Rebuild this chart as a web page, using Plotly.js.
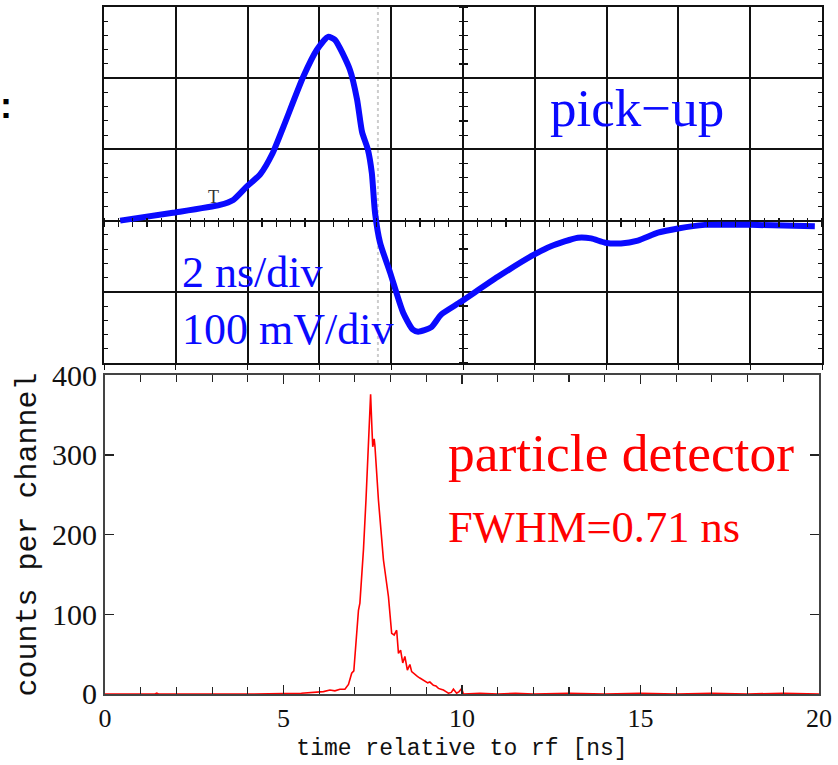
<!DOCTYPE html>
<html>
<head>
<meta charset="utf-8">
<script src="https://cdn.plot.ly/plotly-3.0.1.min.js"></script>
<style>html,body{margin:0;padding:0;background:#fff;}#chart{width:838px;height:765px;}</style>
</head>
<body>
<div id="chart"></div>
<script>
// ---- pick-up signal (oscilloscope trace): time [ns], voltage [mV] ----
const pickupTime = [0.45, 1.92, 3.23, 3.6, 3.98, 4.35, 4.7, 5.0, 5.55, 5.93, 6.24, 6.43, 6.85, 7.05, 7.19, 7.35, 7.46, 7.55, 7.69, 7.97, 8.33, 8.6, 8.75, 9.11, 9.39, 9.94, 10.97, 11.9, 12.45, 13.2, 13.57, 13.96, 14.4, 14.87, 15.43, 15.99, 16.74, 18.02, 19.8];
const pickupVolt = [0, 11, 22, 29, 48, 65, 95, 132, 202, 240, 258, 254, 212, 170, 124, 100, 67, 11, -31, -73, -129, -153, -156, -150, -132, -114, -79, -50, -36, -24, -25, -31, -32, -28, -17, -11, -6, -6, -8];

// ---- particle detector histogram: time relative to rf [ns], counts per channel ----
const detTime = [0, 1.40, 1.45, 1.50, 4.06, 4.5, 5.0, 5.5, 5.74, 6.02, 6.12, 6.30, 6.44, 6.58, 6.72, 6.82, 6.91, 6.97, 7.03, 7.10, 7.14, 7.24, 7.31, 7.37, 7.44, 7.48, 7.50, 7.54, 7.56, 7.66, 7.80, 7.94, 8.03, 8.10, 8.17, 8.22, 8.28, 8.34, 8.40, 8.47, 8.54, 8.59, 8.68, 8.75, 8.82, 8.90, 8.96, 9.04, 9.10, 9.20, 9.27, 9.34, 9.41, 9.48, 9.55, 9.62, 9.70, 9.76, 9.85, 9.92, 9.99, 10.04, 10.5, 11, 11.5, 12, 13, 14, 15, 16, 17, 18, 19, 20];
const detCounts = [0, 0, 1, 0, 0, 0, 0.5, 1, 1.5, 2.5, 3, 5, 4, 6, 6, 12, 26, 29, 68, 105, 114, 181, 243, 300, 376, 330, 310, 320, 312, 243, 168, 122, 76, 74, 80, 51, 55, 39, 47, 30, 37, 28, 24, 22, 20, 18, 17, 14, 15, 11, 10, 7, 6, 5, 3, 1, 2, 6, 1, 3, 7, 0, 1, 0, 1, 0, 1, 0, 1, 0, 1, 0, 1, 0];

// ---- texts ----
const pickupLabel = "pick\u2212up";
const scaleLabels = ["2 ns/div", "100 mV/div"];
const detLabel = "particle detector";
const fwhmLabel = "FWHM=0.71 ns";
const xTitle = "time relative to rf [ns]";
const yTitle = "counts per channel";
const xTicks = [0, 5, 10, 15, 20];
const yTicks = [0, 100, 200, 300, 400];
const cursorTime = 7.63;   // faint cursor line on the scope screen
const triggerTime = 3.04;  // trigger marker "T"

const serif = "Liberation Serif, Times New Roman, serif";
const mono = "Liberation Mono, Courier New, monospace";

const traces = [
  {x: pickupTime, y: pickupVolt, xaxis: 'x2', yaxis: 'y2', mode: 'lines',
   line: {color: '#0a0aff', width: 6, shape: 'spline', smoothing: 0.6}, hoverinfo: 'skip'},
  {x: detTime, y: detCounts, xaxis: 'x', yaxis: 'y', mode: 'lines',
   line: {color: '#ff0000', width: 1.6}, hoverinfo: 'skip'},
  // empty traces so the centre-graticule tick axes are drawn
  {x: [], y: [], xaxis: 'x3', yaxis: 'y2', showlegend: false},
  {x: [], y: [], xaxis: 'x4', yaxis: 'y2', showlegend: false},
  {x: [], y: [], xaxis: 'x2', yaxis: 'y3', showlegend: false},
  {x: [], y: [], xaxis: 'x2', yaxis: 'y4', showlegend: false}
];

const centreY = (694 - 221) / 687;  // normalized position of scope centre line
const centreAxisCommon = {range: [0, 20], showgrid: false, zeroline: false, showline: false,
  showticklabels: false, dtick: 0.4, tickcolor: '#111', tickwidth: 1.2};
const centreYCommon = {range: [-200, 300], showgrid: false, zeroline: false, showline: false,
  showticklabels: false, dtick: 20, tickcolor: '#111', tickwidth: 1.2};

const layout = {
  width: 838, height: 765,
  margin: {l: 104, r: 16, t: 7, b: 71, pad: 0},
  paper_bgcolor: '#fff', plot_bgcolor: 'rgba(0,0,0,0)',
  showlegend: false,
  xaxis: {domain: [0.0014, 0.9958], anchor: 'y', range: [0, 20], tickvals: xTicks,
    ticks: 'inside', ticklen: 9, tickwidth: 1.5, tickcolor: '#222',
    minor: {dtick: 1, ticks: 'inside', ticklen: 7, tickwidth: 1.2, tickcolor: '#222'},
    showline: true, linecolor: '#444', linewidth: 2, mirror: 'ticks',
    showgrid: false, zeroline: false, automargin: false,
    tickfont: {family: serif, size: 26, color: '#111'},
    title: {text: xTitle, font: {family: mono, size: 23, color: '#111'}, standoff: 7}},
  yaxis: {domain: [0, 0.4643], anchor: 'x', range: [0, 400], tickvals: yTicks,
    ticks: 'inside', ticklen: 9, tickwidth: 1.5, tickcolor: '#222',
    showline: true, linecolor: '#444', linewidth: 2, mirror: 'ticks',
    showgrid: false, zeroline: false, automargin: false,
    tickfont: {family: serif, size: 30, color: '#111'},
    title: {text: yTitle, font: {family: mono, size: 30, color: '#111'}, standoff: 6}},
  xaxis2: {domain: [0, 1], anchor: 'y2', range: [0, 20], dtick: 2,
    showgrid: true, gridcolor: '#111', gridwidth: 2, zeroline: false,
    showline: true, linecolor: '#111', linewidth: 2, mirror: true,
    ticks: 'outside', ticklen: 5, tickcolor: '#111', showticklabels: false},
  yaxis2: {domain: [0.4818, 1], anchor: 'x2', range: [-200, 300], dtick: 100,
    showgrid: true, gridcolor: '#111', gridwidth: 2, zeroline: false,
    showline: true, linecolor: '#111', linewidth: 2, mirror: 'ticks',
    ticks: 'inside', ticklen: 4, tickcolor: '#111', showticklabels: false,
    minor: {dtick: 20, ticks: 'inside', ticklen: 4, tickcolor: '#111', tickwidth: 1}},
  xaxis3: Object.assign({overlaying: 'x2', anchor: 'free', position: centreY, side: 'bottom', ticks: 'outside', ticklen: 5}, centreAxisCommon),
  xaxis4: Object.assign({overlaying: 'x2', anchor: 'free', position: centreY, side: 'top', ticks: 'outside', ticklen: 3}, centreAxisCommon),
  yaxis3: Object.assign({overlaying: 'y2', anchor: 'free', position: 0.5, side: 'left', ticks: 'outside', ticklen: 4}, centreYCommon),
  yaxis4: Object.assign({overlaying: 'y2', anchor: 'free', position: 0.5, side: 'right', ticks: 'outside', ticklen: 4}, centreYCommon),
  shapes: [
    {type: 'line', xref: 'x2', yref: 'y2', x0: cursorTime, x1: cursorTime, y0: -200, y1: 300,
     line: {color: '#cccccc', width: 2, dash: 'dot'}, layer: 'below'}
  ],
  annotations: [
    {xref: 'x2', yref: 'y2', x: 12.37, y: 158, xanchor: 'left', yanchor: 'middle', showarrow: false,
     text: pickupLabel, font: {family: serif, size: 53, color: '#0a0aff'}},
    {xref: 'x2', yref: 'y2', x: 2.12, y: -73, xanchor: 'left', yanchor: 'middle', showarrow: false,
     text: scaleLabels[0], font: {family: serif, size: 44, color: '#0a0aff'}},
    {xref: 'x2', yref: 'y2', x: 2.12, y: -153, xanchor: 'left', yanchor: 'middle', showarrow: false,
     text: scaleLabels[1], font: {family: serif, size: 44, color: '#0a0aff'}},
    {xref: 'x2', yref: 'y2', x: triggerTime, y: 33, xanchor: 'center', yanchor: 'middle', showarrow: false,
     text: 'T', font: {family: serif, size: 18, color: '#333'}},
    {xref: 'x', yref: 'y', x: 9.55, y: 302, xanchor: 'left', yanchor: 'middle', showarrow: false,
     text: detLabel, font: {family: serif, size: 53.5, color: '#ff0000'}},
    {xref: 'x', yref: 'y', x: 9.55, y: 209, xanchor: 'left', yanchor: 'middle', showarrow: false,
     text: fwhmLabel, font: {family: serif, size: 44.5, color: '#ff0000'}},
    {xref: 'paper', yref: 'paper', x: -0.1365, y: 0.857, xanchor: 'center', yanchor: 'middle', showarrow: false,
     text: ':', font: {family: 'Liberation Sans, sans-serif', size: 36, color: '#000', weight: 'bold'}}
  ]
};

Plotly.newPlot('chart', traces, layout, {displayModeBar: false, staticPlot: true});
</script>
</body>
</html>
